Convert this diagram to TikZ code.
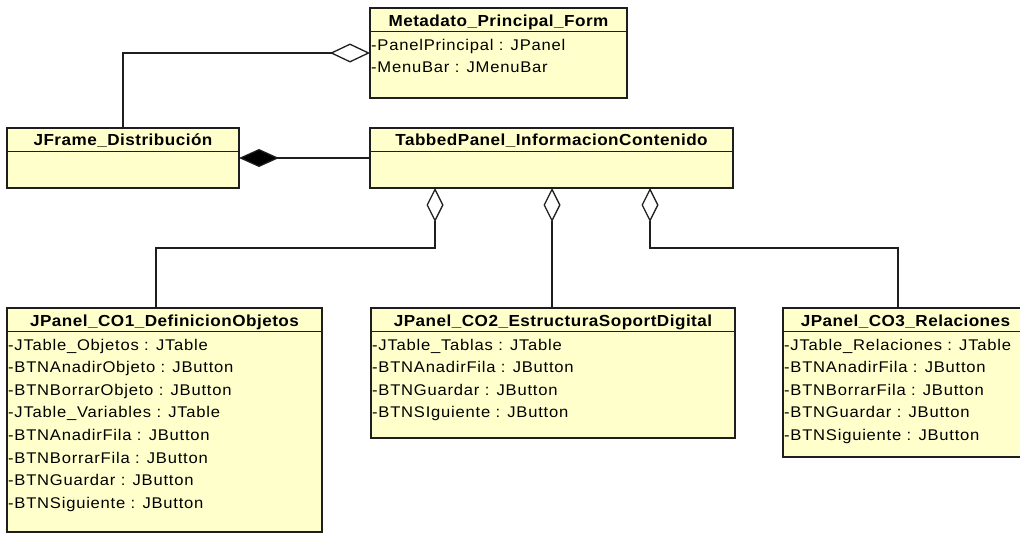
\documentclass[tikz,border=0pt]{standalone}
\usepackage{fontspec}
\setmainfont{Liberation Sans}
\newfontfamily\attrfont{Liberation Sans}[FakeStretch=1.07,LetterSpace=5]
\newfontfamily\headfont{Liberation Sans}[FakeStretch=1.07,LetterSpace=3]
\usetikzlibrary{arrows.meta}
\definecolor{clsfill}{RGB}{255,255,204}
\definecolor{clsline}{RGB}{30,30,30}
\tikzset{
  cls/.style={draw=clsline, line width=1.3pt, fill=clsfill, rectangle,
    inner sep=0pt, outer sep=0pt, anchor=north west},
  clstitle/.style={inner sep=0pt, anchor=base, font=\headfont\bfseries\fontsize{16}{18}\selectfont},
  attr/.style={inner sep=0pt, anchor=base west, font=\attrfont\fontsize{15.5}{18}\selectfont},
  link/.style={draw=clsline, line width=1.3pt},
  agg/.style={link, -{Diamond[open, length=34pt, width=17pt]}},
  aggtop/.style={link, -{Diamond[open, length=40pt, width=19pt]}},
  comp/.style={link, -{Diamond[fill=black, length=40pt, width=18pt]}},
}
% draws the line under a class name
\newcommand{\headrule}[1]{\draw[link] ([yshift=-23.5pt]#1.north west) -- ([yshift=-23.5pt]#1.north east);}
\begin{document}
\begin{tikzpicture}[x=1pt, y=-1pt]
\useasboundingbox (0,0) rectangle (1020,533);
\clip (0,0) rectangle (1020,533);

% class boxes
\node[cls, minimum width=257pt, minimum height=90pt]  (meta)   at (370,8)   {};
\node[cls, minimum width=232pt, minimum height=60pt]  (jframe) at (7,128)   {};
\node[cls, minimum width=363pt, minimum height=60pt]  (tabbed) at (370,128) {};
\node[cls, minimum width=315pt, minimum height=224pt] (co1)    at (7,308)   {};
\node[cls, minimum width=364pt, minimum height=130pt] (co2)    at (371,308) {};
\node[cls, minimum width=245pt, minimum height=149pt] (co3)    at (783,308) {};

\headrule{meta}
\headrule{jframe}
\headrule{tabbed}
\headrule{co1}
\headrule{co2}
\headrule{co3}

% class names
\node[clstitle] (metaT)   at ([yshift=-18pt]meta.north)   {Metadato\_Principal\_Form};
\node[clstitle] (jframeT) at ([yshift=-17.5pt]jframe.north) {JFrame\_Distribución};
\node[clstitle] (tabbedT) at ([yshift=-17.5pt]tabbed.north) {TabbedPanel\_InformacionContenido};
\node[clstitle] (co1T)    at ([yshift=-18pt]co1.north)    {JPanel\_CO1\_DefinicionObjetos};
\node[clstitle] (co2T)    at ([yshift=-18pt]co2.north)    {JPanel\_CO2\_EstructuraSoportDigital};
\node[clstitle] (co3T)    at ([yshift=-18pt]co3.north)    {JPanel\_CO3\_Relaciones};

% attributes
\foreach \t [count=\i] in {{-PanelPrincipal : JPanel}, {-MenuBar : JMenuBar}}
  \node[attr] (metaA\i) at ([xshift=1pt, yshift={-42.7pt-(\i-1)*22pt}]meta.north west) {\t};
\foreach \t [count=\i] in {{-JTable\_Objetos : JTable}, {-BTNAnadirObjeto : JButton},
    {-BTNBorrarObjeto : JButton}, {-JTable\_Variables : JTable}, {-BTNAnadirFila : JButton},
    {-BTNBorrarFila : JButton}, {-BTNGuardar : JButton}, {-BTNSiguiente : JButton}}
  \node[attr] (co1A\i) at ([xshift=1pt, yshift={-42pt-(\i-1)*22.6pt}]co1.north west) {\t};
\foreach \t [count=\i] in {{-JTable\_Tablas : JTable}, {-BTNAnadirFila : JButton},
    {-BTNGuardar : JButton}, {-BTNSIguiente : JButton}}
  \node[attr] (co2A\i) at ([xshift=1pt, yshift={-42pt-(\i-1)*22.6pt}]co2.north west) {\t};
\foreach \t [count=\i] in {{-JTable\_Relaciones : JTable}, {-BTNAnadirFila : JButton},
    {-BTNBorrarFila : JButton}, {-BTNGuardar : JButton}, {-BTNSiguiente : JButton}}
  \node[attr] (co3A\i) at ([xshift=1pt, yshift={-42pt-(\i-1)*22.5pt}]co3.north west) {\t};

% relations
\draw[aggtop] (jframe.north) |- (meta.west);
\draw[comp] (tabbed.west) -- (jframe.east);
\draw[agg] ([xshift=-8.5pt]co1.north) -- ++(0,-60) -| ([xshift=-116.5pt]tabbed.south);
\draw[agg] ([xshift=0.5pt]co2.north -| tabbed.south) -- ([xshift=0.5pt]tabbed.south);
\draw[agg] ([xshift=-7.5pt]co3.north) -- ++(0,-60) -| ([xshift=98.5pt]tabbed.south);
\end{tikzpicture}
\end{document}
